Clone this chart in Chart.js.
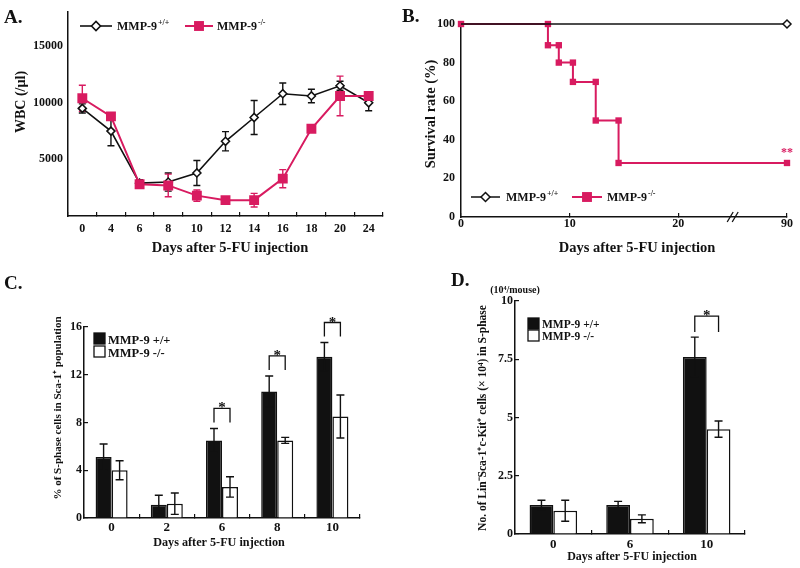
<!DOCTYPE html>
<html>
<head>
<meta charset="utf-8">
<script src="https://cdn.jsdelivr.net/npm/chart.js@4.4.1/dist/chart.umd.min.js"></script>
<style>
  html, body { margin: 0; padding: 0; background: #fff; }
  #fig { position: relative; width: 800px; height: 568px; overflow: hidden; }
  canvas { position: absolute; }
  .tag { position: absolute; font: bold 19px "Liberation Serif", "Times New Roman", serif; line-height: 19px; color: #111; }
</style>
</head>
<body>
<div id="fig">
  <canvas id="chartA" width="400" height="280" style="left:0;top:0"></canvas>
  <canvas id="chartB" width="400" height="280" style="left:400px;top:0"></canvas>
  <canvas id="chartC" width="400" height="288" style="left:0;top:280px"></canvas>
  <canvas id="chartD" width="400" height="288" style="left:400px;top:280px"></canvas>
  <div class="tag" style="left:4px;top:7px">A.</div>
  <div class="tag" style="left:402px;top:6px">B.</div>
  <div class="tag" style="left:4px;top:273px">C.</div>
  <div class="tag" style="left:451px;top:270px">D.</div>
</div>
<script>
const SERIF = '"Liberation Serif", "Times New Roman", serif';
const PINK = '#d81b60';
const INK = '#111';

// A: white blood cells after 5-FU
const daysA = ['0', '4', '6', '8', '10', '12', '14', '16', '18', '20', '24'];
const wbcWT = [9500, 7500, 2900, 3000, 3800, 6600, 8700, 10800, 10600, 11500, 10000];
const wbcWTErr = [400, 1300, 300, 800, 1100, 850, 1500, 950, 600, 400, 700];
const wbcKO = [10400, 8800, 2800, 2700, 1800, 1400, 1400, 3300, 7700, 10600, 10600];
const wbcKOErr = [1150, 300, 200, 1000, 500, 300, 600, 800, 300, 1750, 300];
const wbcTicks = [5000, 10000, 15000];

// B: survival (30 on the axis stands for day 90, after the break)
const wtDays = [0, 30];
const wtSurvival = [100, 100];
const koDays = [0, 8, 8, 9, 9, 10.3, 10.3, 12.4, 12.4, 14.5, 14.5, 30];
const koSurvival = [100, 100, 89, 89, 80, 80, 70, 70, 50, 50, 28, 28];
const survTicks = [0, 20, 40, 60, 80, 100];
const survDayTicks = [0, 10, 20, 30];
const survDayLabels = ['0', '10', '20', '90'];

// C: % S-phase cells in Sca-1+
const daysC = ['0', '2', '6', '8', '10'];
const sphaseWT = [5.1, 1.1, 6.5, 10.6, 13.5];
const sphaseWTErr = [1.1, 0.8, 1.0, 1.3, 1.2];
const sphaseKO = [4.0, 1.2, 2.6, 6.5, 8.5];
const sphaseKOErr = [0.8, 0.9, 0.85, 0.25, 1.8];
const sphaseTicks = [0, 4, 8, 12, 16];
const sigC = ['6', '8', '10'];

// D: LSK cells in S-phase
const daysD = ['0', '6', '10'];
const lskWT = [1.25, 1.25, 7.6];
const lskWTErr = [0.2, 0.15, 0.85];
const lskKO = [1.0, 0.65, 4.5];
const lskKOErr = [0.45, 0.17, 0.35];
const lskTicks = [0, 2.5, 5, 7.5, 10];
const sigD = ['10'];

function marker(ctx, style, x, y, r, fill, stroke, lw) {
  ctx.beginPath();
  if (style === 'rectRot') {
    ctx.moveTo(x - r, y); ctx.lineTo(x, y - r); ctx.lineTo(x + r, y); ctx.lineTo(x, y + r); ctx.closePath();
  } else {
    const h = r * Math.SQRT1_2;
    ctx.rect(x - h, y - h, 2 * h, 2 * h);
  }
  ctx.fillStyle = fill; ctx.fill();
  if (lw) { ctx.lineWidth = lw; ctx.strokeStyle = stroke; ctx.stroke(); }
}

function label(ctx, x, y, main, sup, size) {
  ctx.font = 'bold ' + size + 'px ' + SERIF;
  ctx.fillStyle = INK; ctx.textAlign = 'left'; ctx.textBaseline = 'alphabetic';
  ctx.fillText(main, x, y);
  if (sup) {
    const w = ctx.measureText(main).width;
    ctx.font = 'bold ' + Math.round(size * 0.65) + 'px ' + SERIF;
    ctx.fillText(sup, x + w + 1, y - size * 0.42);
  }
}

function drawErrors(chart, opts) {
  const ctx = chart.ctx, y = chart.scales.y;
  const c = (opts.cap || 7) / 2;
  chart.data.datasets.forEach((ds, i) => {
    if (!ds.errors) return;
    const meta = chart.getDatasetMeta(i);
    ctx.save();
    ctx.strokeStyle = ds.errorColor || INK;
    ctx.lineWidth = 1.4;
    meta.data.forEach((el, j) => {
      const e = ds.errors[j], v = ds.data[j];
      const t = y.getPixelForValue(v + e), b = y.getPixelForValue(v - e);
      ctx.beginPath();
      ctx.moveTo(el.x, t); ctx.lineTo(el.x, b);
      ctx.moveTo(el.x - c, t); ctx.lineTo(el.x + c, t);
      ctx.moveTo(el.x - c, b); ctx.lineTo(el.x + c, b);
      ctx.stroke();
    });
    ctx.restore();
  });
}

const errorBars = {
  id: 'errorBars',
  beforeDatasetsDraw(chart, args, opts) { if (opts.under) drawErrors(chart, opts); },
  afterDatasetsDraw(chart, args, opts) { if (!opts.under) drawErrors(chart, opts); }
};

const sigBrackets = {
  id: 'sigBrackets',
  afterDatasetsDraw(chart, args, opts) {
    if (!opts.categories) return;
    const ctx = chart.ctx, y = chart.scales.y, labels = chart.data.labels;
    const [a, b] = chart.data.datasets;
    const ma = chart.getDatasetMeta(0), mb = chart.getDatasetMeta(1);
    ctx.save();
    ctx.strokeStyle = INK; ctx.fillStyle = INK; ctx.lineWidth = 1.3;
    ctx.font = 'bold ' + opts.star + 'px ' + SERIF;
    ctx.textAlign = 'center'; ctx.textBaseline = 'alphabetic';
    opts.categories.forEach(cat => {
      const j = labels.indexOf(cat);
      const top = Math.min(y.getPixelForValue(a.data[j] + a.errors[j]), y.getPixelForValue(b.data[j] + b.errors[j]));
      const legY = top - opts.gap, barY = legY - opts.height;
      const x0 = ma.data[j].x, x1 = mb.data[j].x;
      ctx.beginPath();
      ctx.moveTo(x0, legY); ctx.lineTo(x0, barY); ctx.lineTo(x1, barY); ctx.lineTo(x1, legY);
      ctx.stroke();
      ctx.fillText('*', (x0 + x1) / 2, barY + opts.starDrop);
    });
    ctx.restore();
  }
};

const panelLegend = {
  id: 'panelLegend',
  afterDraw(chart, args, opts) {
    if (!opts.items) return;
    const ctx = chart.ctx;
    ctx.save();
    opts.items.forEach(it => {
      const ds = chart.data.datasets[it.dataset];
      if (it.line) {
        ctx.strokeStyle = ds.borderColor; ctx.lineWidth = ds.borderWidth;
        ctx.beginPath(); ctx.moveTo(it.line[0], it.y); ctx.lineTo(it.line[1], it.y); ctx.stroke();
        marker(ctx, ds.pointStyle, (it.line[0] + it.line[1]) / 2, it.y, it.r,
          ds.pointBackgroundColor, ds.pointBorderColor, ds.pointBorderWidth);
      } else {
        ctx.fillStyle = ds.backgroundColor;
        ctx.fillRect(it.box[0], it.box[1], it.box[2], it.box[2]);
        ctx.strokeStyle = INK; ctx.lineWidth = 1.3;
        ctx.strokeRect(it.box[0], it.box[1], it.box[2], it.box[2]);
      }
      label(ctx, it.tx, it.ty, it.label, it.sup, opts.size);
    });
    ctx.restore();
  }
};

const panelText = {
  id: 'panelText',
  afterDraw(chart, args, opts) {
    if (!opts.items) return;
    const ctx = chart.ctx;
    opts.items.forEach(t => {
      ctx.save();
      ctx.translate(t.x, t.y);
      if (t.rot) ctx.rotate(t.rot * Math.PI / 180);
      ctx.font = 'bold ' + t.size + 'px ' + SERIF;
      ctx.fillStyle = t.color || INK;
      ctx.textAlign = 'center'; ctx.textBaseline = 'middle';
      ctx.fillText(t.text, 0, 0);
      ctx.restore();
    });
  }
};

const axisBreak = {
  id: 'axisBreak',
  afterDraw(chart, args, opts) {
    if (opts.value === undefined) return;
    const ctx = chart.ctx;
    const x = chart.scales.x.getPixelForValue(opts.value), y = chart.chartArea.bottom;
    ctx.save();
    ctx.strokeStyle = INK; ctx.lineWidth = 1.3;
    [-2.5, 2.5].forEach(dx => {
      ctx.beginPath(); ctx.moveTo(x + dx - 3, y + 5); ctx.lineTo(x + dx + 3, y - 5); ctx.stroke();
    });
    ctx.restore();
  }
};

function tickFont(size) { return { family: SERIF, size: size, weight: 'bold' }; }

function xAxis(base, o) {
  return Object.assign(base, {
    grid: { display: true, offset: base.type === 'category', drawOnChartArea: false, drawTicks: true,
            tickLength: -4, color: INK, lineWidth: 1.2 },
    border: { display: true, color: INK, width: 1.5 },
    ticks: Object.assign({ color: INK, font: tickFont(o.size), padding: o.pad, maxRotation: 0, autoSkip: false }, o.ticks || {}),
    afterFit(s) { s.height = o.height; }
  });
}

function yAxis(min, max, values, o) {
  return {
    type: 'linear', min: min, max: max,
    afterBuildTicks(s) { s.ticks = values.map(v => ({ value: v })); },
    grid: o.inner
      ? { display: true, drawOnChartArea: false, drawTicks: true, tickLength: -4, color: INK, lineWidth: 1.2 }
      : { display: false, drawTicks: false },
    border: { display: true, color: INK, width: 1.5 },
    ticks: { color: INK, font: tickFont(o.size), padding: o.pad, callback: v => String(v) },
    afterFit(s) { s.width = o.width; }
  };
}

const common = {
  responsive: false,
  animation: false,
  events: []
};

// ---------- A ----------
new Chart(document.getElementById('chartA'), {
  type: 'line',
  data: {
    labels: daysA,
    datasets: [
      { data: wbcWT, errors: wbcWTErr, errorColor: INK, borderColor: INK, borderWidth: 1.6,
        pointStyle: 'rectRot', pointRadius: 4, pointBackgroundColor: '#fff', pointBorderColor: INK,
        pointBorderWidth: 1.6, order: 1 },
      { data: wbcKO, errors: wbcKOErr, errorColor: PINK, borderColor: PINK, borderWidth: 2,
        pointStyle: 'rect', pointRadius: 7, pointBackgroundColor: PINK, pointBorderColor: PINK,
        pointBorderWidth: 0, order: 0 }
    ]
  },
  options: Object.assign({}, common, {
    layout: { padding: { left: 0, top: 12, right: 17, bottom: 0 } },
    scales: {
      x: xAxis({ type: 'category', offset: true }, { size: 12, pad: 10, height: 64 }),
      y: yAxis(0, 18000, wbcTicks, { size: 12, pad: 5, width: 68 })
    },
    plugins: {
      legend: { display: false }, tooltip: { enabled: false },
      errorBars: { under: true, cap: 7 },
      panelLegend: { size: 12, items: [
        { dataset: 0, line: [80, 112], y: 26, r: 4.5, tx: 117, ty: 30, label: 'MMP-9', sup: '+/+' },
        { dataset: 1, line: [185, 213], y: 26, r: 7, tx: 217, ty: 30, label: 'MMP-9', sup: '-/-' }
      ] },
      panelText: { items: [
        { text: 'WBC (/µl)', x: 21, y: 102, rot: -90, size: 14 },
        { text: 'Days after 5-FU injection', x: 230, y: 248, size: 14.5 }
      ] }
    }
  }),
  plugins: [errorBars, panelLegend, panelText]
});

// ---------- B ----------
new Chart(document.getElementById('chartB'), {
  type: 'line',
  data: {
    datasets: [
      { data: wtDays.map((d, i) => ({ x: d, y: wtSurvival[i] })), borderColor: INK, borderWidth: 1.5,
        pointStyle: 'rectRot', pointRadius: [0, 4], pointBackgroundColor: '#fff', pointBorderColor: INK,
        pointBorderWidth: 1.5, order: 0, clip: false },
      { data: koDays.map((d, i) => ({ x: d, y: koSurvival[i] })), borderColor: PINK, borderWidth: 2,
        pointStyle: 'rect', pointRadius: 4.5, pointBackgroundColor: PINK, pointBorderColor: PINK,
        pointBorderWidth: 0, order: 1, clip: false }
    ]
  },
  options: Object.assign({}, common, {
    layout: { padding: { left: 0, top: 24, right: 13, bottom: 0 } },
    scales: {
      x: xAxis({
        type: 'linear', min: 0, max: 30,
        afterBuildTicks(s) { s.ticks = survDayTicks.map(v => ({ value: v })); }
      }, { size: 12, pad: 4, height: 63,
           ticks: { callback: v => survDayLabels[survDayTicks.indexOf(v)] } }),
      y: yAxis(0, 100, survTicks, { size: 12, pad: 6, width: 61 })
    },
    plugins: {
      legend: { display: false }, tooltip: { enabled: false },
      axisBreak: { value: 25 },
      panelLegend: { size: 12, items: [
        { dataset: 0, line: [71, 100], y: 197, r: 4.5, tx: 106, ty: 201, label: 'MMP-9', sup: '+/+' },
        { dataset: 1, line: [172, 202], y: 197, r: 7, tx: 207, ty: 201, label: 'MMP-9', sup: '-/-' }
      ] },
      panelText: { items: [
        { text: 'Survival rate (%)', x: 31, y: 114, rot: -90, size: 14.5 },
        { text: 'Days after 5-FU injection', x: 237, y: 248, size: 14.5 },
        { text: '**', x: 387, y: 153, size: 12, color: PINK }
      ] }
    }
  }),
  plugins: [axisBreak, panelLegend, panelText]
});

// ---------- C ----------
new Chart(document.getElementById('chartC'), {
  type: 'bar',
  data: {
    labels: daysC,
    datasets: [
      { data: sphaseWT, errors: sphaseWTErr, backgroundColor: INK, borderColor: INK, borderWidth: 1.5,
        categoryPercentage: 0.58, barPercentage: 1 },
      { data: sphaseKO, errors: sphaseKOErr, backgroundColor: '#fff', borderColor: INK, borderWidth: 1.5,
        categoryPercentage: 0.58, barPercentage: 1 }
    ]
  },
  options: Object.assign({}, common, {
    layout: { padding: { left: 0, top: 47, right: 40, bottom: 0 } },
    scales: {
      x: xAxis({ type: 'category', offset: true }, { size: 13, pad: 6, height: 50 }),
      y: yAxis(0, 16, sphaseTicks, { size: 12, pad: 6, width: 84, inner: true })
    },
    plugins: {
      legend: { display: false }, tooltip: { enabled: false },
      errorBars: { cap: 8 },
      sigBrackets: { categories: sigC, gap: 6, height: 14, star: 15, starDrop: 4 },
      panelLegend: { size: 12.5, items: [
        { dataset: 0, box: [94, 53, 11], tx: 108, ty: 64, label: 'MMP-9 +/+' },
        { dataset: 1, box: [94, 66, 11], tx: 108, ty: 77, label: 'MMP-9 -/-' }
      ] },
      panelText: { items: [
        { text: '% of S-phase cells in Sca-1⁺ population', x: 58, y: 128, rot: -90, size: 11 },
        { text: 'Days after 5-FU injection', x: 219, y: 263, size: 12.2 }
      ] }
    }
  }),
  plugins: [errorBars, sigBrackets, panelLegend, panelText]
});

// ---------- D ----------
new Chart(document.getElementById('chartD'), {
  type: 'bar',
  data: {
    labels: daysD,
    datasets: [
      { data: lskWT, errors: lskWTErr, backgroundColor: INK, borderColor: INK, borderWidth: 1.5,
        categoryPercentage: 0.62, barPercentage: 1 },
      { data: lskKO, errors: lskKOErr, backgroundColor: '#fff', borderColor: INK, borderWidth: 1.5,
        categoryPercentage: 0.62, barPercentage: 1 }
    ]
  },
  options: Object.assign({}, common, {
    layout: { padding: { left: 0, top: 21, right: 55, bottom: 0 } },
    scales: {
      x: xAxis({ type: 'category', offset: true }, { size: 13, pad: 7, height: 34 }),
      y: yAxis(0, 10, lskTicks, { size: 12, pad: 6, width: 115, inner: true })
    },
    plugins: {
      legend: { display: false }, tooltip: { enabled: false },
      errorBars: { cap: 8 },
      sigBrackets: { categories: sigD, gap: 5, height: 16, star: 15, starDrop: 4 },
      panelLegend: { size: 11.5, items: [
        { dataset: 0, box: [128, 38, 11], tx: 142, ty: 48, label: 'MMP-9 +/+' },
        { dataset: 1, box: [128, 50, 11], tx: 142, ty: 60, label: 'MMP-9 -/-' }
      ] },
      panelText: { items: [
        { text: 'No. of Lin⁻Sca-1⁺c-Kit⁺ cells (× 10⁴) in S-phase', x: 83, y: 138, rot: -90, size: 11.5 },
        { text: '(10⁴/mouse)', x: 115, y: 10, size: 10 },
        { text: 'Days after 5-FU injection', x: 232, y: 277, size: 12 }
      ] }
    }
  }),
  plugins: [errorBars, sigBrackets, panelLegend, panelText]
});
</script>
</body>
</html>
